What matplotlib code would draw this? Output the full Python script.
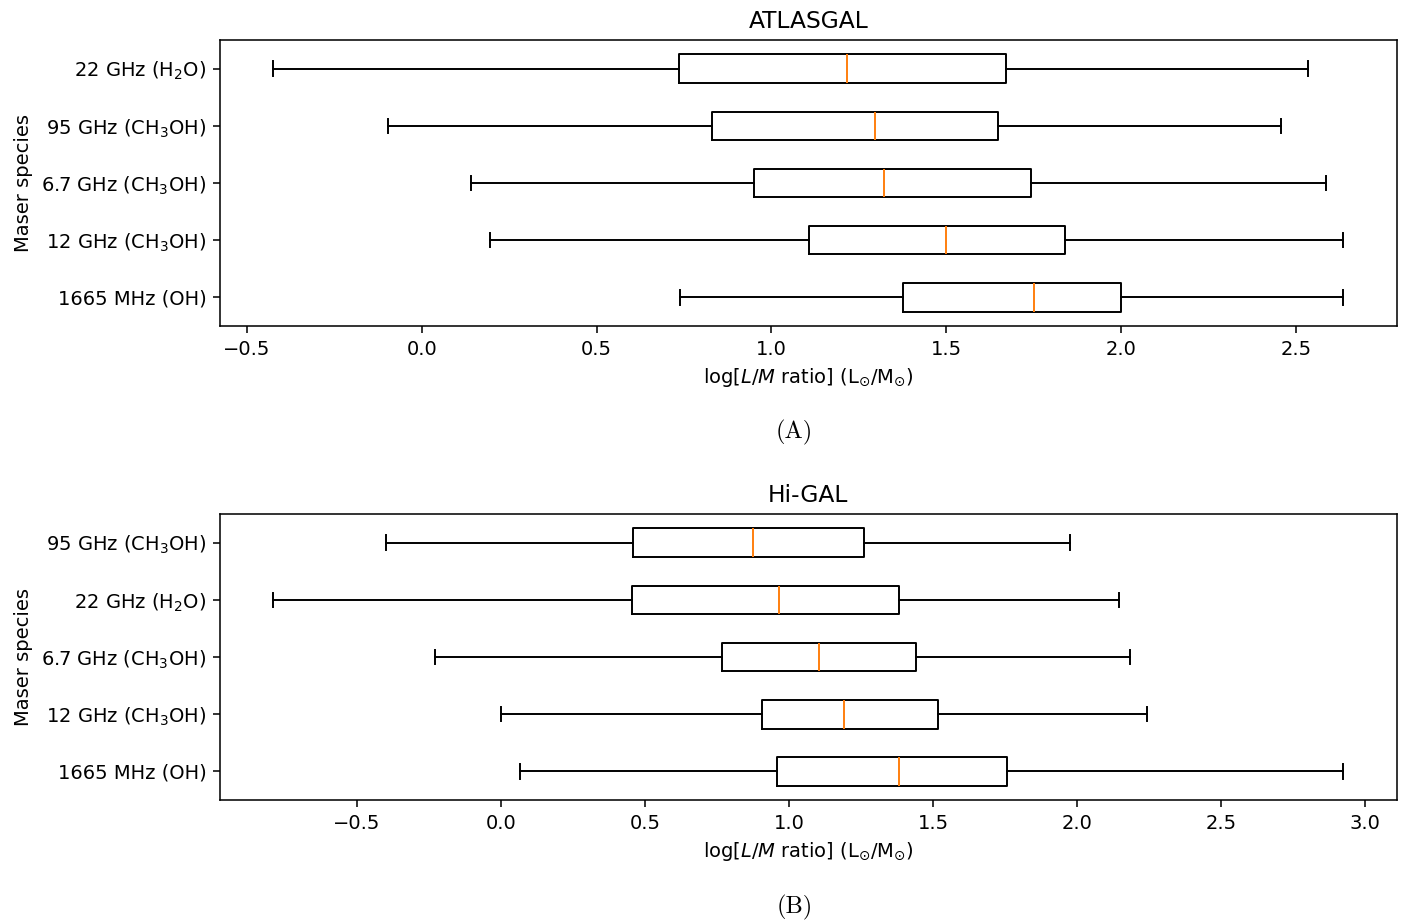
import matplotlib
matplotlib.use("Agg")
import matplotlib.pyplot as plt

# species, listed from top row to bottom row of each panel
atlas_species = ['22 GHz (H$_2$O)', '95 GHz (CH$_3$OH)', '6.7 GHz (CH$_3$OH)',
                 '12 GHz (CH$_3$OH)', '1665 MHz (OH)']
atlas_whislo = [-0.424, -0.096, 0.141, 0.196, 0.739]
atlas_q1 = [0.736, 0.830, 0.950, 1.107, 1.376]
atlas_med = [1.216, 1.296, 1.321, 1.499, 1.750]
atlas_q3 = [1.670, 1.649, 1.744, 1.839, 1.999]
atlas_whishi = [2.536, 2.459, 2.587, 2.636, 2.636]

higal_species = ['95 GHz (CH$_3$OH)', '22 GHz (H$_2$O)', '6.7 GHz (CH$_3$OH)',
                 '12 GHz (CH$_3$OH)', '1665 MHz (OH)']
higal_whislo = [-0.400, -0.789, -0.227, 0.000, 0.068]
higal_q1 = [0.459, 0.456, 0.768, 0.906, 0.958]
higal_med = [0.875, 0.965, 1.104, 1.191, 1.381]
higal_q3 = [1.260, 1.381, 1.440, 1.516, 1.756]
higal_whishi = [1.977, 2.147, 2.182, 2.244, 2.924]

xlab = r'log[$L/M$ ratio] (L$_{\odot}$/M$_{\odot}$)'


def draw_panel(ax, title, names, lo, q1, med, q3, hi):
    stats = []
    for i in range(len(names)):
        stats.append({'whislo': lo[i], 'q1': q1[i], 'med': med[i],
                      'q3': q3[i], 'whishi': hi[i], 'fliers': []})
    pos = list(range(len(names), 0, -1))
    ax.bxp(stats, positions=pos, vert=False, showfliers=False)
    ax.set_yticks(pos)
    ax.set_yticklabels(names)
    ax.set_xlabel(xlab)
    ax.set_ylabel('Maser species')
    ax.set_title(title)
    ax.autoscale(axis='x')


fig = plt.figure(figsize=(1409 / 140, 924 / 140), dpi=140)
ax1 = fig.add_axes([0.1561, 0.6472, 0.8353, 0.3095])
ax2 = fig.add_axes([0.1561, 0.1342, 0.8353, 0.3095])

draw_panel(ax1, 'ATLASGAL', atlas_species, atlas_whislo, atlas_q1,
           atlas_med, atlas_q3, atlas_whishi)
draw_panel(ax2, 'Hi-GAL', higal_species, higal_whislo, higal_q1,
           higal_med, higal_q3, higal_whishi)

fig.text(0.564, 0.532, '(A)', ha='center', va='center',
         fontfamily='cmr10', fontsize=12.5)
fig.text(0.564, 0.018, '(B)', ha='center', va='center',
         fontfamily='cmr10', fontsize=12.5)

fig.savefig('out.png', dpi=140)
